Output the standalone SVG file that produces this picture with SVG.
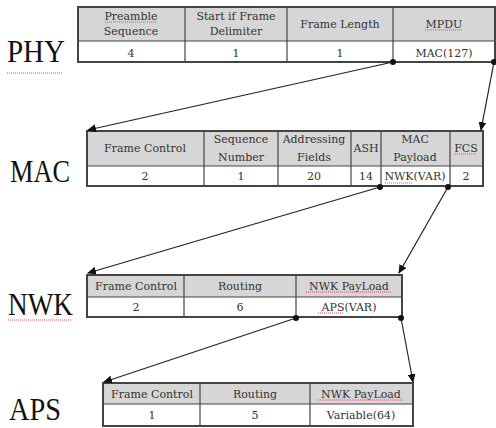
<svg xmlns="http://www.w3.org/2000/svg" width="496" height="428" viewBox="0 0 496 428">
<defs>
<style>
.hd{fill:#d6d6d6}
.bd{fill:#ffffff}
.out{fill:none;stroke:#444;stroke-width:2}
.in{stroke:#444;stroke-width:1.2;fill:none}
.t{font-family:"DejaVu Serif","Liberation Serif",serif;font-size:11px;fill:#333;text-anchor:middle}
.lbl{font-family:"Liberation Serif","Times New Roman",serif;font-size:31px;fill:#111}
.sp{stroke:#e05060;stroke-width:1;stroke-dasharray:1 1;fill:none}
.con{stroke:#222;stroke-width:1.2;fill:none}
.dot{fill:#111}
</style>
<marker id="ah" markerWidth="9" markerHeight="8" refX="8" refY="4" orient="auto" markerUnits="userSpaceOnUse">
<path d="M0,0 L9,4 L0,8 z" fill="#111"/>
</marker>
</defs>
<rect width="496" height="428" fill="#fff"/>

<g id="phy">
<text class="lbl" x="7" y="62" textLength="58" lengthAdjust="spacingAndGlyphs">PHY</text>
<line class="sp" x1="7" y1="73" x2="63" y2="73"/>
<rect class="hd" x="78" y="7" width="417" height="34"/>
<rect class="bd" x="78" y="41" width="417" height="21"/>
<line class="in" x1="78" y1="41" x2="495" y2="41"/>
<line class="in" x1="185" y1="7" x2="185" y2="62"/>
<line class="in" x1="287" y1="7" x2="287" y2="62"/>
<line class="in" x1="393" y1="7" x2="393" y2="62"/>
<rect class="out" x="78" y="7" width="417" height="55"/>
<text class="t" x="131" y="20">Preamble</text>
<line class="sp" x1="105" y1="22" x2="157" y2="22"/>
<text class="t" x="131" y="35">Sequence</text>
<text class="t" x="236" y="20">Start if Frame</text>
<text class="t" x="236" y="35">Delimiter</text>
<text class="t" x="340" y="28">Frame Length</text>
<text class="t" x="444" y="28">MPDU</text>
<line class="sp" x1="425" y1="30" x2="463" y2="30"/>
<text class="t" x="131" y="57">4</text>
<text class="t" x="236" y="57">1</text>
<text class="t" x="340" y="57">1</text>
<text class="t" x="444" y="57">MAC(127)</text>
</g>

<g id="mac">
<text class="lbl" x="10" y="182" textLength="60" lengthAdjust="spacingAndGlyphs">MAC</text>
<rect class="hd" x="87" y="131" width="396" height="35"/>
<rect class="bd" x="87" y="166" width="396" height="20"/>
<line class="in" x1="87" y1="166" x2="483" y2="166"/>
<line class="in" x1="204" y1="131" x2="204" y2="186"/>
<line class="in" x1="278" y1="131" x2="278" y2="186"/>
<line class="in" x1="351" y1="131" x2="351" y2="186"/>
<line class="in" x1="381" y1="131" x2="381" y2="186"/>
<line class="in" x1="450" y1="131" x2="450" y2="186"/>
<rect class="out" x="87" y="131" width="396" height="55"/>
<text class="t" x="145" y="152">Frame Control</text>
<text class="t" x="241" y="143">Sequence</text>
<text class="t" x="241" y="161">Number</text>
<text class="t" x="314" y="143">Addressing</text>
<text class="t" x="314" y="161">Fields</text>
<text class="t" x="366" y="152">ASH</text>
<text class="t" x="415" y="143">MAC</text>
<text class="t" x="415" y="161">Payload</text>
<text class="t" x="466" y="152">FCS</text>
<line class="sp" x1="455" y1="154" x2="477" y2="154"/>
<text class="t" x="145" y="180">2</text>
<text class="t" x="241" y="180">1</text>
<text class="t" x="314" y="180">20</text>
<text class="t" x="366" y="180">14</text>
<text class="t" x="415" y="180">NWK(VAR)</text>
<line class="sp" x1="385" y1="183" x2="412" y2="183"/>
<text class="t" x="466" y="180">2</text>
</g>

<g id="nwk">
<text class="lbl" x="8" y="315" textLength="65" lengthAdjust="spacingAndGlyphs">NWK</text>
<line class="sp" x1="8" y1="320" x2="72" y2="320"/>
<rect class="hd" x="87" y="275" width="315" height="22"/>
<rect class="bd" x="87" y="297" width="315" height="20"/>
<line class="in" x1="87" y1="297" x2="402" y2="297"/>
<line class="in" x1="184" y1="275" x2="184" y2="317"/>
<line class="in" x1="296" y1="275" x2="296" y2="317"/>
<rect class="out" x="87" y="275" width="315" height="42"/>
<text class="t" x="136" y="290">Frame Control</text>
<text class="t" x="240" y="290">Routing</text>
<text class="t" x="349" y="290">NWK PayLoad</text>
<line class="sp" x1="306" y1="292" x2="392" y2="292"/>
<text class="t" x="136" y="311">2</text>
<text class="t" x="240" y="311">6</text>
<text class="t" x="349" y="311">APS(VAR)</text>
<line class="sp" x1="318" y1="313" x2="343" y2="313"/>
</g>

<g id="aps">
<text class="lbl" x="9" y="420" font-size="29" textLength="52" lengthAdjust="spacingAndGlyphs">APS</text>
<rect class="hd" x="103" y="383" width="310" height="21"/>
<rect class="bd" x="103" y="404" width="310" height="22"/>
<line class="in" x1="103" y1="404" x2="413" y2="404"/>
<line class="in" x1="200" y1="383" x2="200" y2="426"/>
<line class="in" x1="310" y1="383" x2="310" y2="426"/>
<rect class="out" x="103" y="383" width="310" height="43"/>
<text class="t" x="152" y="398">Frame Control</text>
<text class="t" x="255" y="398">Routing</text>
<text class="t" x="361" y="398">NWK PayLoad</text>
<line class="sp" x1="318" y1="400" x2="404" y2="400"/>
<text class="t" x="152" y="419">1</text>
<text class="t" x="255" y="419">5</text>
<text class="t" x="361" y="419">Variable(64)</text>
</g>

<g id="connectors">
<line class="con" x1="393" y1="62" x2="88" y2="130" marker-end="url(#ah)"/>
<line class="con" x1="494" y1="62" x2="481" y2="130" marker-end="url(#ah)"/>
<line class="con" x1="380" y1="187" x2="88" y2="273" marker-end="url(#ah)"/>
<line class="con" x1="448" y1="187" x2="399" y2="273" marker-end="url(#ah)"/>
<line class="con" x1="296" y1="318" x2="104" y2="382" marker-end="url(#ah)"/>
<line class="con" x1="401" y1="318" x2="413" y2="382" marker-end="url(#ah)"/>
<circle class="dot" cx="393" cy="62" r="3"/>
<circle class="dot" cx="494" cy="62" r="3"/>
<circle class="dot" cx="380" cy="187" r="3"/>
<circle class="dot" cx="448" cy="187" r="3"/>
<circle class="dot" cx="296" cy="318" r="3"/>
<circle class="dot" cx="401" cy="318" r="3"/>
</g>
</svg>
